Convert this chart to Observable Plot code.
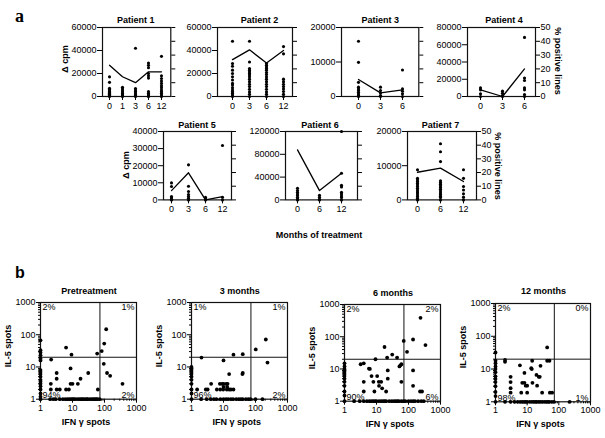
<!DOCTYPE html>
<html><head><meta charset="utf-8">
<script src="https://cdn.jsdelivr.net/npm/d3@7"></script>
<script src="https://cdn.jsdelivr.net/npm/@observablehq/plot@0.6"></script>
<style>
body{margin:0;background:#fff;}
#fig{position:relative;width:605px;height:438px;overflow:hidden;font-family:"Liberation Sans",Arial,Helvetica,sans-serif;color:#000;background:#fff;}
.abs{position:absolute;}
.abs svg{display:block;}
.t{position:absolute;font-weight:bold;font-size:9px;white-space:nowrap;transform:translate(-50%,-50%);line-height:1;}
.rl{transform:translate(-50%,-50%) rotate(-90deg);}
.rr{transform:translate(-50%,-50%) rotate(90deg);}
</style></head><body><div id="fig"></div>
<script>
// ---------- Panel a data ----------
const pctTicks = [0, 10, 20, 30, 40, 50];

const p1Months = ["0", "1", "3", "6", "12"];
const p1Cpm = [
  [17100, 12300, 7100, 6000, 5000, 4300, 3500, 2900, 2000, 1400, 800, 0],
  [8000, 6600, 5000, 3800, 2500, 1500, 600, 0],
  [42000, 7000, 5700, 4300, 3000, 1800, 800, 0],
  [29100, 27100, 25000, 20000, 18000, 16000, 4300, 2900, 1500, 500, 0],
  [34900, 18000, 15700, 13400, 11400, 9400, 7700, 5700, 4300, 2900, 1400, 0]
];
const p1Pct = [22.6, 14.3, 10, 17.9, 17.9];
const p1Ticks = [0, 20000, 40000, 60000];

const p2Months = ["0", "3", "6", "12"];
const p2Cpm = [
  [48000, 28600, 26300, 22900, 20000, 17100, 14300, 11400, 10000, 7700, 5700, 4300, 2900, 1400, 0],
  [48000, 30000, 24300, 22900, 21400, 20000, 18600, 17100, 15100, 12900, 10600, 8600, 6300, 4000, 2000, 0],
  [28600, 27100, 25700, 24300, 22900, 20900, 19100, 17100, 15100, 12900, 10600, 8600, 6300, 4000, 2000, 0],
  [43400, 37100, 15100, 12900, 10600, 8600, 6600, 4300, 2000, 0]
];
const p2Pct = [26.7, 33.8, 24.3, 33.3];
const p2Ticks = [0, 20000, 40000, 60000];

const p3Months = ["0", "3", "6"];
const p3Cpm = [
  [16000, 9900, 4100, 2700, 2200, 1700, 1200, 700, 300, 0],
  [2700, 1700, 1000, 300, 0],
  [7700, 2200, 1500, 800, 0]
];
const p3Pct = [12.3, 2.6, 4.8];
const p3Ticks = [0, 10000, 20000];

const p4Months = ["0", "3", "6"];
const p4Cpm = [
  [10000, 7700, 3100, 0],
  [6200, 3800, 1200, 0],
  [68500, 21500, 18500, 10000, 7700, 2300, 0]
];
const p4Pct = [4.8, 0, 20];
const p4Ticks = [0, 20000, 40000, 60000, 80000];

const p5Months = ["0", "3", "6", "12"];
const p5Cpm = [
  [9950, 7800, 1950, 1200, 400, 0],
  [20500, 8000, 4900, 3100, 2000, 1000, 0],
  [1560, 600, 0],
  [31800, 1560, 0]
];
const p5Pct = [6.8, 19.8, 0, 2.4];
const p5Ticks = [0, 10000, 20000, 30000, 40000];

const p6Months = ["0", "6", "12"];
const p6Cpm = [
  [20500, 16400, 13500, 10500, 7600, 4700, 1800, 0],
  [8200, 4700, 1200, 0],
  [120000, 46800, 25700, 22800, 13400, 10500, 7000, 4100, 0]
];
const p6Pct = [36.6, 6.8, 19.5];
const p6Ticks = [0, 40000, 80000, 120000];

const p7Months = ["0", "6", "12"];
const p7Cpm = [
  [8800, 6300, 5800, 5400, 4900, 4400, 3900, 3400, 2900, 2400, 2000, 1500, 1000, 500, 0],
  [16400, 14100, 11200, 5600, 5100, 4600, 4100, 3600, 3100, 2600, 2100, 1600, 1100, 700, 0],
  [8800, 6300, 3900, 2900, 1800, 800, 0]
];
const p7Pct = [20.2, 23.2, 13.4];
const p7Ticks = [0, 10000, 20000];

// ---------- Panel b data ([IFN-γ spots, IL-5 spots]) ----------
const logMajor = [1, 10, 100, 1000];
const logMinor = [2, 3, 4, 5, 6, 7, 8, 9, 20, 30, 40, 50, 60, 70, 80, 90, 200, 300, 400, 500, 600, 700, 800, 900];
const ifnCut = 72;
const il5Cut = 20;
const spotTitles = ["Pretreatment", "3 months", "6 months", "12 months"];

const spotsPre = [
  [1, 67], [1, 33], [1, 28], [1, 23], [1, 18], [1, 16], [1, 8], [1, 7], [1, 6], [1, 5], [1, 4], [1, 3.5], [1, 3], [1, 2.5], [1, 2], [1, 1.5], [1, 1.2],
  [2.15, 17], [6.3, 40], [9.3, 24], [59, 26], [82, 31], [98, 53], [113, 148], [95, 12.5], [120, 6.5], [150, 5.3], [365, 3], [62, 2],
  [2.1, 3], [2.1, 2], [3.2, 6.5], [3.2, 4.3], [3.2, 2], [4, 2], [6.3, 2], [8.7, 9], [8.7, 3], [10, 3], [14.7, 3], [17.8, 4.3], [31, 6.5], [7.7, 2],
  [1, 1], [2, 1], [2.5, 1], [3, 1], [4, 1], [5, 1], [6, 1], [7, 1], [8, 1], [9, 1], [10, 1], [11, 1], [12, 1], [14, 1], [16, 1], [18, 1], [20, 1], [22, 1], [25, 1], [28, 1], [30, 1], [35, 1], [40, 1], [45, 1], [50, 1], [55, 1], [60, 1], [70, 1]
];
const pctPre = ["2%", "1%", "94%", "2%"];

const spots3m = [
  [1, 10], [1, 9], [1, 8], [1, 7], [1, 6], [1, 5], [1, 4], [1, 3], [1, 2], [1, 1.5],
  [2.05, 19.6], [10, 16], [20.5, 24], [40, 25], [102, 35], [210, 71], [237, 13.7], [15, 6], [40, 6.5], [39, 6],
  [1.5, 2], [2.8, 2], [3.2, 2], [4.1, 3], [6.2, 2], [7.7, 3], [9, 3], [10, 3], [12, 3], [13.4, 3], [7.9, 2], [9.8, 2], [12.7, 2], [15, 2], [17, 2], [20.5, 2], [13, 2.4], [10, 2.4],
  [1, 1], [2, 1], [3, 1], [4, 1], [5, 1], [6, 1], [8, 1], [10, 1], [12, 1], [14, 1], [17, 1], [20, 1], [25, 1], [30, 1], [35, 1], [40, 1], [50, 1], [60, 1], [70, 1], [100, 1], [165, 1]
];
const pct3m = ["1%", "1%", "96%", "2%"];

const spots6m = [
  [1, 15], [1, 12], [1, 10], [1, 9], [1, 8], [1, 7], [1, 6], [1, 5], [1, 4], [1, 3], [1, 2], [1, 1.5],
  [237, 385], [339, 55], [139, 82], [90, 34], [71, 74], [17.8, 48], [31, 28], [21.5, 22.5], [44, 22.5], [9.3, 20],
  [56, 13], [52, 12], [60, 14], [3.2, 14], [4, 15], [5.8, 10.3], [6.2, 10], [7, 6], [10.5, 6], [14, 4], [22.5, 9], [22.5, 5],
  [8, 4], [11.8, 4], [15, 2.5], [8.6, 2], [20, 2], [4, 4], [4, 2], [60, 4], [139, 9], [139, 3], [230, 2], [265, 2], [12, 3],
  [1, 1], [2, 1], [3, 1], [4, 1], [5, 1], [6, 1], [7, 1], [8, 1], [9, 1], [10, 1], [12, 1], [14, 1], [16, 1], [18, 1], [20, 1], [25, 1], [30, 1], [35, 1], [40, 1], [45, 1], [50, 1], [60, 1], [70, 1], [80, 1], [100, 1], [120, 1], [140, 1], [160, 1], [200, 1], [250, 1], [300, 1]
];
const pct6m = ["2%", "2%", "90%", "6%"];

const spots12m = [
  [1, 32], [1, 18], [1, 15], [1, 12], [1, 10], [1, 8], [1, 6], [1, 5], [1, 4], [1, 3], [1, 2], [1, 1.5],
  [42.8, 45.6], [42.8, 17.9], [50.7, 17.9], [2, 19], [2, 16.6], [3, 5.8], [3, 4], [3, 2.6], [3, 1.9], [5.9, 13], [8.2, 7.6], [7, 3.8], [8.2, 3.8],
  [13.4, 10.6], [14, 10], [14.4, 17.9], [19.7, 6.6], [23.2, 5.8], [25, 5.8], [26.4, 12.5], [10, 3.1], [20.6, 3.1], [14.7, 3.8],
  [6.5, 1.9], [10, 1.9], [29.7, 1.9], [52, 1.9], [61.5, 1.9], [9, 3.1],
  [1, 1], [2, 1], [3, 1], [4, 1], [5, 1], [6, 1], [7, 1], [8, 1], [9, 1], [10, 1], [12, 1], [14, 1], [16, 1], [18, 1], [20, 1], [23, 1], [26, 1], [30, 1], [35, 1], [40, 1], [45, 1], [50, 1], [60, 1], [70, 1], [220, 1]
];
const pct12m = ["2%", "0%", "98%", "1%"];

// ---------- helpers ----------
const FONT = '"Liberation Sans", Arial, Helvetica, sans-serif';
const fig = document.getElementById("fig");

function place(node, left, top) {
  const d = document.createElement("div");
  d.className = "abs";
  d.style.left = left + "px";
  d.style.top = top + "px";
  d.appendChild(node);
  fig.appendChild(d);
}
function label(text, cx, cy, cls, size) {
  const d = document.createElement("div");
  d.className = "t" + (cls ? " " + cls : "");
  d.textContent = text;
  d.style.left = cx + "px";
  d.style.top = cy + "px";
  if (size) d.style.fontSize = size + "px";
  fig.appendChild(d);
}

function patientPlot(f, name, months, cpm, pct, yTicks, showRight) {
  const ymax = yTicks[yTicks.length - 1];
  const mL = 36, mR = 22, mT = 4, mB = 18;
  const fw = f.r - f.l, fh = f.b - f.t;
  const dots = months.flatMap((m, i) => cpm[i].map(v => ({m, v})));
  const line = months.map((m, i) => ({m, v: pct[i] / 50 * ymax}));
  const svg = Plot.plot({
    width: fw + mL + mR, height: fh + mT + mB,
    marginLeft: mL, marginRight: mR, marginTop: mT, marginBottom: mB,
    style: {fontFamily: FONT, fontSize: "9px", background: "transparent", color: "#000", overflow: "visible"},
    x: {type: "point", domain: months, padding: 0, insetLeft: f.il, insetRight: f.ir},
    y: {domain: [0, ymax]},
    marks: [
      Plot.axisY({ticks: yTicks, tickSize: 5, tickPadding: 1, tickFormat: d => String(d), label: null}),
      Plot.axisY({anchor: "right", ticks: pctTicks.map(p => p / 50 * ymax), tickSize: 4, tickPadding: 1,
        tickFormat: d => String(Math.round(d / ymax * 50)), fill: showRight ? "currentColor" : "none", label: null}),
      Plot.axisX({tickSize: 4, tickPadding: 2, label: null}),
      Plot.frame({stroke: "#111", strokeWidth: 1.2}),
      Plot.line(line, {x: "m", y: "v", stroke: "#000", strokeWidth: 1.3}),
      Plot.dot(dots, {x: "m", y: "v", r: 1.55, fill: "#000"})
    ]
  });
  place(svg, f.l - mL, f.t - mT);
  label(name, (f.l + f.r) / 2 + f.tx, f.t - 6.5);
}

function spotPlot(f, title, pts, pcts) {
  const mL = 26, mR = 8, mT = 4, mB = 16;
  const fw = f.r - f.l, fh = f.b - f.t;
  const svg = Plot.plot({
    width: fw + mL + mR, height: fh + mT + mB,
    marginLeft: mL, marginRight: mR, marginTop: mT, marginBottom: mB,
    style: {fontFamily: FONT, fontSize: "9px", background: "transparent", color: "#000", overflow: "visible"},
    x: {type: "log", domain: [1, 1000]},
    y: {type: "log", domain: [1, 1000]},
    marks: [
      Plot.axisY({ticks: logMajor, tickSize: 4, tickPadding: 1, tickFormat: d => String(d), label: null}),
      Plot.axisY({ticks: logMinor, tickSize: 2, fill: "none", label: null}),
      Plot.axisX({ticks: logMajor, tickSize: 4, tickPadding: 1, tickFormat: d => String(d), label: null}),
      Plot.axisX({ticks: logMinor, tickSize: 2, fill: "none", label: null}),
      Plot.frame({stroke: "#111", strokeWidth: 1.2}),
      Plot.ruleX([ifnCut], {stroke: "#111", strokeWidth: 1}),
      Plot.ruleY([il5Cut], {stroke: "#111", strokeWidth: 1}),
      Plot.dot(pts, {x: d => d[0], y: d => d[1], r: 1.9, fill: "#000"}),
      Plot.text([pcts[0]], {frameAnchor: "top-left", text: d => d, dx: 2, dy: 1, fontSize: 9}),
      Plot.text([pcts[1]], {frameAnchor: "top-right", text: d => d, dx: -2, dy: 1, fontSize: 9}),
      Plot.text([pcts[2]], {frameAnchor: "bottom-left", text: d => d, dx: 2, dy: -1, fontSize: 9}),
      Plot.text([pcts[3]], {frameAnchor: "bottom-right", text: d => d, dx: -2, dy: -1, fontSize: 9})
    ]
  });
  place(svg, f.l - mL, f.t - mT);
  const cx = (f.l + f.r) / 2;
  label(title, cx + 1, f.t - 11.5);
  label("IFN \u03b3 spots", cx - 2, f.b + 22.5);
  label("IL-5 spots", f.l - 32, (f.t + f.b) / 2 - 5, "rl");
}

// ---------- panel a ----------
const rowA1 = {t: 26.5, b: 95.5};
const rowA2 = {t: 131.3, b: 199.7};
patientPlot({l: 101.7, r: 170, ...rowA1, il: 6, ir: 8, tx: 0}, "Patient 1", p1Months, p1Cpm, p1Pct, p1Ticks, false);
patientPlot({l: 217, r: 292, ...rowA1, il: 14, ir: 9, tx: 5}, "Patient 2", p2Months, p2Cpm, p2Pct, p2Ticks, false);
patientPlot({l: 340.7, r: 418, ...rowA1, il: 16, ir: 16, tx: 1}, "Patient 3", p3Months, p3Cpm, p3Pct, p3Ticks, false);
patientPlot({l: 467, r: 535, ...rowA1, il: 12, ir: 11, tx: 3}, "Patient 4", p4Months, p4Cpm, p4Pct, p4Ticks, true);
patientPlot({l: 163, r: 231, ...rowA2, il: 8, ir: 9, tx: 0}, "Patient 5", p5Months, p5Cpm, p5Pct, p5Ticks, false);
patientPlot({l: 285, r: 357, ...rowA2, il: 11, ir: 16, tx: -1}, "Patient 6", p6Months, p6Cpm, p6Pct, p6Ticks, false);
patientPlot({l: 407, r: 476, ...rowA2, il: 10, ir: 13, tx: -1}, "Patient 7", p7Months, p7Cpm, p7Pct, p7Ticks, true);

label("\u0394 cpm", 65, 59, "rl");
label("\u0394 cpm", 125.5, 165, "rl");
label("% positive lines", 557, 61, "rr");
label("% positive lines", 497, 166, "rr");
label("Months of treatment", 319, 235);

// ---------- panel b ----------
spotPlot({l: 40, r: 136, t: 302.3, b: 399}, spotTitles[0], spotsPre, pctPre);
spotPlot({l: 190.7, r: 286.7, t: 302.3, b: 399}, spotTitles[1], spots3m, pct3m);
spotPlot({l: 344, r: 440, t: 304.3, b: 401}, spotTitles[2], spots6m, pct6m);
spotPlot({l: 495, r: 590, t: 302.7, b: 401}, spotTitles[3], spots12m, pct12m);

// panel letters
const la = document.createElement("div");
la.textContent = "a";
la.style.cssText = "position:absolute;left:15px;top:7px;font:bold 18px 'Liberation Serif','Times New Roman',serif;line-height:18px;";
fig.appendChild(la);
const lb = document.createElement("div");
lb.textContent = "b";
lb.style.cssText = "position:absolute;left:15px;top:265px;font:bold 16px 'Liberation Sans',Arial,sans-serif;line-height:16px;";
fig.appendChild(lb);
</script></body></html>
